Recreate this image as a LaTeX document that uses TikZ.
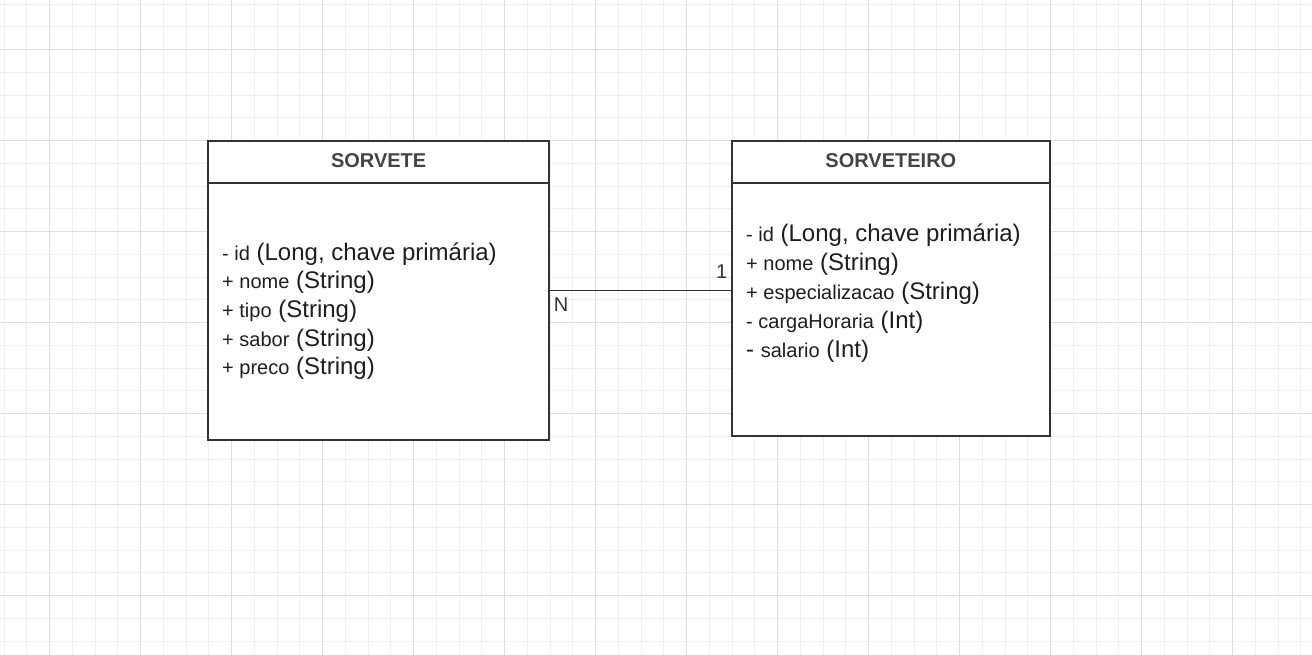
\documentclass[tikz,border=0pt]{standalone}
\usepackage{fontspec}
\setmainfont{Liberation Sans}
\usetikzlibrary{positioning}

\definecolor{gridminor}{HTML}{EFEFEF}
\definecolor{gridmajor}{HTML}{DDDDDD}
\definecolor{boxline}{HTML}{333333}
\definecolor{titletext}{HTML}{444444}
\definecolor{attrtext}{HTML}{1E1E1E}

\newcommand{\smpart}[1]{{\fontsize{20}{24}\selectfont #1}}

\tikzset{
  classbox/.style={draw=boxline, line width=2pt, fill=white, inner sep=0pt},
  classhead/.style={draw=boxline, line width=2pt, inner sep=0pt, text=titletext,
    text depth=4pt, font=\fontsize{20}{24}\selectfont\bfseries},
  attrib/.style={anchor=base west, inner sep=0pt, text=attrtext,
    font=\fontsize{24}{29}\selectfont},
  cardlabel/.style={text=boxline, font=\fontsize{20}{24}\selectfont, inner xsep=3pt}
}

\begin{document}
\begin{tikzpicture}[x=1pt, y=-1pt]

\useasboundingbox (0,0) rectangle (1312,655);
\fill[white] (0,0) rectangle (1312,655);

% background grid
\foreach \i in {0,...,57} \draw[gridminor] ({3.8+22.75*\i},0) -- ({3.8+22.75*\i},655);
\foreach \j in {0,...,28} \draw[gridminor] (0,{3.8+22.75*\j}) -- (1312,{3.8+22.75*\j});
\foreach \i in {0,...,13} \draw[gridmajor] ({49.3+91*\i},0) -- ({49.3+91*\i},655);
\foreach \j in {0,...,6} \draw[gridmajor] (0,{49.3+91*\j}) -- (1312,{49.3+91*\j});

% classes
\node[classbox, minimum width=341.3pt, minimum height=299pt] (sorvete) at (378.65,290.5) {};
\node[classhead, anchor=north, minimum width=341.3pt, minimum height=42.5pt] (sorvetehead) at (sorvete.north) {SORVETE};

\node[classbox, minimum width=318.3pt, minimum height=295pt] (sorveteiro) at (890.85,288.5) {};
\node[classhead, anchor=north, minimum width=318.3pt, minimum height=42.5pt] (sorveteirohead) at (sorveteiro.north) {SORVETEIRO};

% attributes
\node[attrib] (sorveteid) at (222,260) {\smpart{- id} (Long, chave primária)};
\node[attrib] (sorvetenome) at (222,288.7) {\smpart{+ nome} (String)};
\node[attrib] (sorvetetipo) at (222,317.4) {\smpart{+ tipo} (String)};
\node[attrib] (sorvetesabor) at (222,346.1) {\smpart{+ sabor} (String)};
\node[attrib] (sorvetepreco) at (222,374.8) {\smpart{+ preco} (String)};

\node[attrib] (sorveteiroid) at (746,241.7) {\smpart{- id} (Long, chave primária)};
\node[attrib] (sorveteironome) at (746,270.7) {\smpart{+ nome} (String)};
\node[attrib] (sorveteiroesp) at (746,299.7) {\smpart{+ especializacao} (String)};
\node[attrib] (sorveteirocarga) at (746,328.7) {\smpart{- cargaHoraria} (Int)};
\node[attrib] (sorveteirosalario) at (746,357.7) {- \smpart{salario} (Int)};

% relationship
\draw[boxline, line width=1pt] (sorvete.east |- 0,290) -- (sorveteiro.west |- 0,290)
  node[cardlabel, pos=0, anchor=north west, inner ysep=7pt] (lblmany) {N}
  node[cardlabel, pos=1, anchor=south east, inner ysep=11pt] (lblone) {1};

\end{tikzpicture}
\end{document}
